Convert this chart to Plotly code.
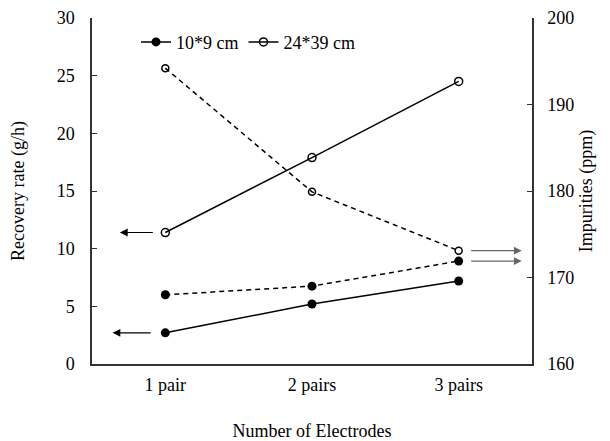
import plotly.graph_objects as go

categories = ["1 pair", "2 pairs", "3 pairs"]
rate_small = [2.7, 5.2, 7.2]        # 10*9 cm, recovery rate (left)
rate_large = [11.4, 17.9, 24.5]     # 24*39 cm, recovery rate (left)
imp_small = [168.0, 169.0, 171.9]   # 10*9 cm, impurities (right)
imp_large = [194.2, 179.9, 173.1]   # 24*39 cm, impurities (right)

font = "Liberation Serif"
fig = go.Figure()

fig.add_trace(go.Scatter(x=categories, y=rate_small, name="10*9 cm", mode="lines+markers",
                         line=dict(color="black", width=1.5),
                         marker=dict(symbol="circle", size=9, color="black")))
fig.add_trace(go.Scatter(x=categories, y=rate_large, name="24*39 cm", mode="lines+markers",
                         line=dict(color="black", width=1.5),
                         marker=dict(symbol="circle-open", size=8, color="black", line=dict(width=1.5))))
fig.add_trace(go.Scatter(x=categories, y=imp_small, name="10*9 cm imp", mode="lines+markers",
                         yaxis="y2", showlegend=False,
                         line=dict(color="black", width=1.5, dash="5px,4px"),
                         marker=dict(symbol="circle", size=9, color="black")))
fig.add_trace(go.Scatter(x=categories, y=imp_large, name="24*39 cm imp", mode="lines+markers",
                         yaxis="y2", showlegend=False,
                         line=dict(color="black", width=1.5, dash="5px,4px"),
                         marker=dict(symbol="circle-open", size=7, color="black", line=dict(width=1.5))))

arrows = [
    dict(x=-0.31, y=rate_large[0], ax=-0.075, ay=rate_large[0], yref="y", ayref="y", color="black"),
    dict(x=-0.36, y=rate_small[0], ax=-0.09, ay=rate_small[0], yref="y", ayref="y", color="black"),
    dict(x=2.43, y=imp_large[2], ax=2.075, ay=imp_large[2], yref="y2", ayref="y2", color="#666666"),
    dict(x=2.43, y=imp_small[2], ax=2.075, ay=imp_small[2], yref="y2", ayref="y2", color="#666666"),
]
for a in arrows:
    fig.add_annotation(x=a["x"], y=a["y"], ax=a["ax"], ay=a["ay"], xref="x", axref="x",
                       yref=a["yref"], ayref=a["ayref"], text="", showarrow=True,
                       arrowhead=2, arrowsize=1.3, arrowwidth=1.2, arrowcolor=a["color"])

tickf = dict(family=font, size=18, color="black")
titlef = dict(family=font, size=18, color="black")

fig.update_layout(
    width=602, height=433,
    margin=dict(l=84, r=78, t=10, b=77),
    paper_bgcolor="white", plot_bgcolor="white",
    font=dict(family=font, size=18, color="black"),
    showlegend=True,
    legend=dict(orientation="h", x=0.1, y=0.93, xanchor="left", yanchor="middle",
                bgcolor="rgba(0,0,0,0)", font=dict(family=font, size=18), itemwidth=30),
    xaxis=dict(type="category", range=[-0.5, 2.5], showline=True, linecolor="#333333", linewidth=1.5,
               ticks="", showgrid=False, zeroline=False, automargin=False, tickfont=tickf,
               ticklabelstandoff=4,
               title=dict(text="Number of Electrodes", standoff=30, font=titlef)),
    yaxis=dict(range=[0, 30], dtick=5, showline=True, linecolor="#333333", linewidth=1.5,
               ticks="inside", ticklen=5, tickcolor="#333333", showgrid=False, zeroline=False,
               automargin=False, tickfont=tickf, ticklabelstandoff=12,
               title=dict(text="Recovery rate (g/h)", standoff=33, font=titlef)),
    yaxis2=dict(range=[160, 200], dtick=10, overlaying="y", side="right", showline=True,
                linecolor="#333333", linewidth=1.5, ticks="inside", ticklen=5, tickcolor="#333333",
                showgrid=False, zeroline=False, automargin=False, tickfont=tickf,
                ticklabelstandoff=10,
                title=dict(text="Impurities (ppm)", standoff=6, font=titlef)),
)

fig.write_html("out.html")
